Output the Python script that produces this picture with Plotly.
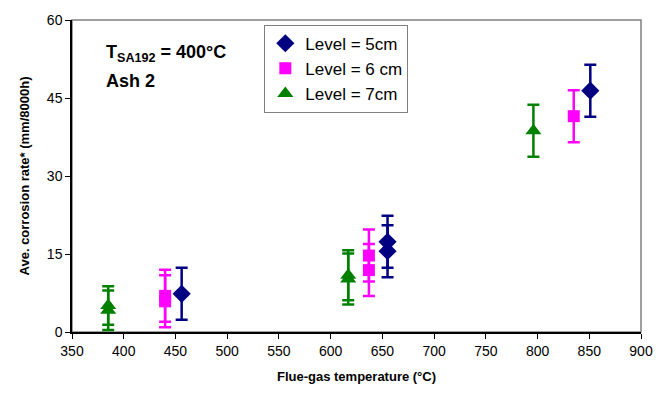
import plotly.graph_objects as go

# Level = 5cm
x5 = [456, 655, 655, 851]
y5 = [7.35, 17.35, 15.55, 46.4]
e5 = [5.0, 5.0, 5.0, 5.0]
# Level = 6 cm
x6 = [440, 440, 637, 637, 835]
y6 = [6.95, 5.9, 14.7, 11.9, 41.5]
e6 = [5.0, 5.0, 5.0, 5.0, 5.0]
# Level = 7cm
x7 = [385, 385, 617, 617, 796]
y7 = [5.1, 4.2, 10.9, 10.2, 38.7]
e7 = [3.7, 3.8, 4.8, 4.9, 5.0]

xticks = [350, 400, 450, 500, 550, 600, 650, 700, 750, 800, 850, 900]
yticks = [0, 15, 30, 45, 60]

FONT = "Liberation Sans, Arial, sans-serif"

series = [
    ("Level = 5cm", x5, y5, e5, "#000080", "diamond", 14),
    ("Level = 6 cm", x6, y6, e6, "#FF00FF", "square", 12),
    ("Level = 7cm", x7, y7, e7, "#008000", "triangle-up", 14),
]

fig = go.Figure()
for name, xs, ys, es, col, sym, sz in series:
    fig.add_trace(go.Scatter(
        x=xs, y=ys, mode="markers", name=name,
        marker=dict(color=col, symbol=sym, size=sz, line=dict(width=0)),
        error_y=dict(type="data", array=es, visible=True, color=col,
                     thickness=2.5, width=6),
    ))

fig.update_layout(
    width=667, height=394,
    margin=dict(l=72, r=26, t=16, b=60),
    paper_bgcolor="white", plot_bgcolor="white",
    font=dict(family=FONT, size=14, color="black"),
    showlegend=True,
    legend=dict(x=0.338, y=0.985, xanchor="left", yanchor="top",
                bordercolor="#808080", borderwidth=1, bgcolor="white",
                font=dict(size=17, family=FONT), itemsizing="trace",
                tracegroupgap=0),
    xaxis=dict(range=[350, 900], tickvals=xticks, ticks="outside",
               ticklen=5, tickcolor="black", showgrid=False, zeroline=False,
               showline=True, linecolor="black", linewidth=1.5,
               tickfont=dict(size=14),
               title=dict(text="<b>Flue-gas temperature (°C)</b>",
                          font=dict(size=13), standoff=14)),
    yaxis=dict(range=[0, 60], tickvals=yticks, ticks="outside",
               ticklen=5, tickcolor="black", showgrid=False, zeroline=False,
               showline=True, linecolor="black", linewidth=1.5,
               tickfont=dict(size=14),
               title=dict(text="<b>Ave. corrosion rate* (mm/8000h)</b>",
                          font=dict(size=13), standoff=14)),
    shapes=[dict(type="rect", xref="paper", yref="paper", x0=0, y0=0, x1=1, y1=1,
                 line=dict(color="#808080", width=1.5), layer="below")],
    annotations=[
        dict(text="<b>T<sub>SA192</sub> = 400°C</b>", xref="paper", yref="paper",
             x=0.056, y=0.893, xanchor="left", yanchor="middle", showarrow=False,
             font=dict(size=18, family=FONT)),
        dict(text="<b>Ash 2</b>", xref="paper", yref="paper",
             x=0.056, y=0.805, xanchor="left", yanchor="middle", showarrow=False,
             font=dict(size=18, family=FONT)),
    ],
)

fig.write_html("out.html")
